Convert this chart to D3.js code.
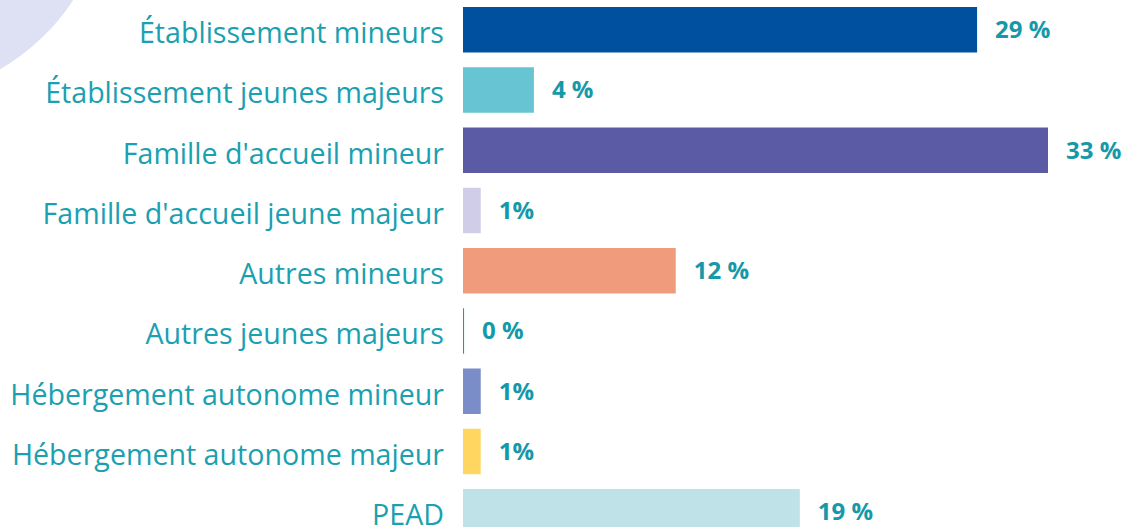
<!DOCTYPE html>
<html><head><meta charset="utf-8">
<script src="https://cdn.jsdelivr.net/npm/d3@7"></script>
<style>html,body{margin:0;padding:0;background:#fff;overflow:hidden}</style>
</head><body>
<script>
const categories = ["Établissement mineurs","Établissement jeunes majeurs","Famille d'accueil mineur","Famille d'accueil jeune majeur","Autres mineurs","Autres jeunes majeurs","Hébergement autonome mineur","Hébergement autonome majeur","PEAD"];
const values = [29, 4, 33, 1, 12, 0.06, 1, 1, 19];
const valueLabels = ["29 %","4 %","33 %","1%","12 %","0 %","1%","1%","19 %"];
const colors = ["#0050a0","#66c4d3","#5b5ba5","#d0cde8","#f19b7d","#1a9aab","#7b8dc8","#ffd760","#bee2e8"];

const W = 1123, H = 527;
const svg = d3.select("body").append("svg").attr("width", W).attr("height", H);

svg.append("circle").attr("cx", -110).attr("cy", -120).attr("r", 219).attr("fill", "#dee0f3");

const x = d3.scaleLinear().domain([0, 33]).range([463, 1048]);
const y = d3.scaleBand().domain(categories).range([-0.38, -0.38 + 9 * 60.25]).paddingInner(0.245).paddingOuter(0.1225);

svg.selectAll("rect.bar").data(categories).join("rect")
  .attr("class","bar")
  .attr("x", x(0)).attr("y", d => y(d))
  .attr("width", (d,i) => x(values[i]) - x(0))
  .attr("height", y.bandwidth())
  .attr("fill", (d,i) => colors[i]);

svg.selectAll("text.lab").data(categories).join("text")
  .attr("class","lab")
  .attr("x", 444).attr("y", d => y(d) + y.bandwidth()/2 + 13.5)
  .attr("text-anchor","end")
  .attr("font-family","'Open Sans', sans-serif").attr("font-size", 28.6)
  .attr("fill","#1aa0b0")
  .text(d => d);

svg.selectAll("text.val").data(categories).join("text")
  .attr("class","val")
  .attr("x", (d,i) => x(values[i]) + 18).attr("y", d => y(d) + y.bandwidth()/2 + 8.5)
  .attr("font-family","'Open Sans', sans-serif").attr("font-size", 24).attr("font-weight", 700)
  .attr("fill","#1598a9")
  .text((d,i) => valueLabels[i]);
</script>
</body></html>
